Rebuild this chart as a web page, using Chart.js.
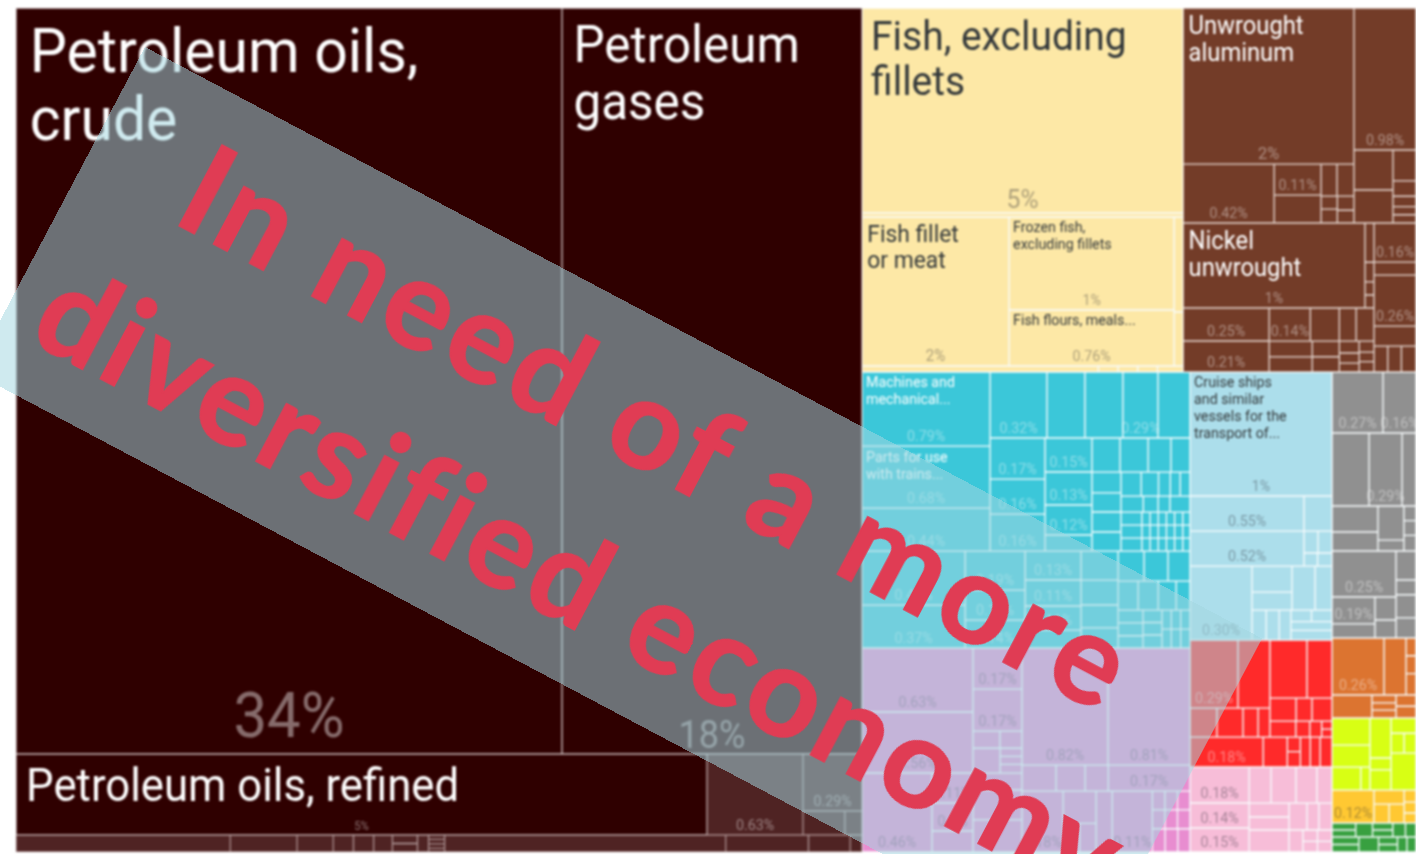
<!DOCTYPE html>
<html>
<head>
<meta charset="utf-8">
<title>Export treemap</title>
<script src="https://cdn.jsdelivr.net/npm/chart.js@4/dist/chart.umd.js"></script>
<style>
    html, body { margin: 0; padding: 0; background: #fff; overflow: hidden; width: 1416px; height: 854px; }
    #wrap { position: relative; width: 1416px; height: 854px; overflow: hidden; }
    #treemap { position: absolute; left: 0; top: 0; filter: blur(0.8px); }
    #band {
        position: absolute; left: 145px; top: 47px; width: 1264px; height: 368px;
        background: rgba(163, 214, 225, 0.52);
        transform-origin: 0 0; transform: rotate(27.9deg);
    }
    #band div {
        position: absolute; left: 0; width: 100%; text-align: center; white-space: nowrap;
        font: bold 126px/1 Lato, sans-serif; letter-spacing: 4.8px; color: #e03c54;
        -webkit-text-stroke: 1.5px #e03c54;
    }
</style>
</head>
<body>
<div id="wrap">
    <canvas id="treemap" width="1416" height="854"></canvas>
    <div id="band">
        <div style="top: 31px">In need of a more</div>
        <div style="top: 203px; left: 5px; letter-spacing: 4.3px">diversified economy</div>
    </div>
</div>
<script>
// shares of exports in percent, read from the area of each cell
const c = (v, name, pct) => ({ v, name, pct });

const crudeAndGases = [c(34.47, "Petroleum oils,\ncrude", "34%"), c(18.94, "Petroleum\ngases", "18%")];
const refinedCell = c(4.74, "Petroleum oils, refined", "5%");
const petroleumCells = [
    crudeAndGases,
    [refinedCell, c(0.658, null, "0.63%"), [c(0.285, null, "0.29%"), [0.085, 0.035]]],
    [0.308, 0.096, 0.052, 0.029, 0.029, 0.027, [0.018, 0.018], 0.016, [0.006, 0.006, 0.006, 0.005], 0.404, 0.119, 0.06, 0.017],
];

const fishCells = [
    c(5.57, "Fish, excluding\nfillets", "5%"),
    [0.109],
    [
        c(1.854, "Fish fillet\nor meat", "2%"),
        [c(1.299, "Frozen fish,\nexcluding fillets", "1%"), c(0.782, "Fish flours, meals...", "0.76%")],
        [0.072, 0.041],
    ],
    [0.12, 0.01, 0.01, 0.01, 0.013],
];

const metalCells = [
    [
        [
            c(2.258, "Unwrought\naluminum", "2%"),
            [
                c(0.454, null, "0.42%"),
                [c(0.123, null, "0.11%"), 0.111],
                [[0.043, 0.046], [[0.018, 0.019], [0.02, 0.018]]],
            ],
        ],
        [c(0.745, null, "0.98%"), [[0.132, 0.109], [0.06, 0.03, 0.02, 0.016, 0.016]]],
    ],
    [
        [
            [c(1.309, "Nickel\nunwrought", "1%"), [0.03, 0.015, 0.01, 0.01]],
            [
                [c(0.24, null, "0.25%"), c(0.226, null, "0.21%")],
                [
                    [c(0.115, null, "0.14%"), 0.081, 0.047, 0.05],
                    [[0.058, 0.055], [0.036, 0.035], [0.02, 0.017, 0.015], [0.014, 0.012, 0.013]],
                ],
            ],
        ],
        [c(0.139, null, "0.16%"), 0.046, c(0.181, null, "0.26%"), 0.071, [0.03, 0.03, 0.032]],
    ],
];

const tealUpper = [
    [c(0.802, "Machines and\nmechanical...", "0.79%"), c(0.672, "Parts for use\nwith trains...", "0.68%"), c(0.466, null, "0.44%")],
    [
        [c(0.318, null, "0.32%"), 0.212, 0.212, c(0.196, null, "0.29%"), 0.179],
        [
            [c(0.191, null, "0.17%"), c(0.163, null, "0.16%"), c(0.172, null, "0.16%")],
            [c(0.135, null, "0.15%"), c(0.131, null, "0.13%"), c(0.119, null, "0.12%"), 0.064],
            [
                [0.081, 0.081, 0.066, 0.055],
                [
                    [0.051, 0.047, 0.049, 0.047],
                    [
                        [0.041, 0.035, 0.024, 0.02, 0.02],
                        [0.03, 0.02, 0.016, 0.027],
                        [
                            [0.023, 0.023, 0.023],
                            [
                                [0.009, 0.009, 0.009, 0.009, 0.009, 0.008],
                                [0.009, 0.009, 0.009, 0.009, 0.009, 0.008],
                                [0.009, 0.009, 0.009, 0.009, 0.009, 0.008],
                            ],
                        ],
                    ],
                ],
            ],
        ],
    ],
];

const tealLower = [
    [c(0.471, null, "0.41%"), c(0.375, null, "0.37%")],
    [c(0.198, null, "0.19%"), c(0.152, null, "0.15%"), c(0.142, null, "0.14%")],
    [c(0.137, null, "0.13%"), c(0.123, null, "0.11%"), c(0.114, null, "0.11%"), 0.085],
    [0.091, 0.078, 0.072, 0.063],
    [
        [0.066, 0.061, 0.056],
        [0.049, 0.049, 0.044, 0.034],
        [[0.027, 0.027, 0.026], [0.02, 0.02, 0.021], [[0.015, 0.015, 0.015], [0.015, 0.015, 0.015]]],
    ],
];

const pinkCells = [
    [
        c(0.601, null, "0.63%"),
        c(0.573, null, "0.56%"),
        [c(0.468, null, "0.46%"), [c(0.104, null, "0.11%"), c(0.097, null, "0.1%"), 0.073]],
    ],
    [
        c(0.17, null, "0.17%"),
        c(0.174, null, "0.17%"),
        [0.039, 0.032],
        [0.057, [0.015, 0.015, 0.016]],
        0.07,
        0.124,
        0.133,
    ],
    [
        [c(0.852, null, "0.82%"), c(0.812, null, "0.81%")],
        [0.075, 0.064, 0.051, c(0.18, null, "0.17%")],
        [
            c(0.212, null, "0.18%"),
            [0.09, [0.04, 0.04]],
            0.083,
            c(0.207, null, "0.11%"),
            [[0.02, 0.02, 0.02], [0.02, 0.02, 0.02], [0.025, 0.025, 0.024]],
        ],
    ],
];

const shipCells = [
    c(1.49, "Cruise ships\nand similar\nvessels for the\ntransport of...", "1%"),
    [
        [c(0.338, null, "0.55%"), c(0.338, null, "0.52%")],
        [0.083, [0.026, 0.026], [0.015, 0.016]],
    ],
    [
        c(0.388, null, "0.30%"),
        [
            [[0.088, 0.061], 0.086, 0.063],
            [0.036, 0.033, 0.03, [[0.02, 0.02], 0.03, 0.034]],
        ],
    ],
];

const redCells = [
    [
        [
            [c(0.276, null, "0.29%"), 0.184],
            [0.066, 0.064, 0.037, 0.029],
        ],
        [
            [0.182, 0.123],
            [0.051, 0.031, 0.039],
            [0.035, 0.019, 0.016, [0.007, 0.007]],
        ],
    ],
    [c(0.185, null, "0.18%"), 0.061, [0.016, 0.017], 0.025, 0.025, 0.03],
];

const lightPinkCells = [
    [c(0.18, null, "0.18%"), c(0.125, null, "0.14%"), c(0.12, null, "0.15%")],
    [
        [0.067, 0.076, 0.064, 0.046],
        [[0.047, 0.044], 0.041, 0.027, 0.03],
        [0.074, 0.026, [[0.014, 0.014], [0.013, 0.013]]],
    ],
];

const greyCells = [
    [c(0.263, null, "0.27%"), c(0.17, null, "0.16%")],
    [0.229, c(0.204, null, "0.29%"), 0.086],
    [[0.101, 0.074], [0.075, 0.024], [0.015, 0.015, 0.016]],
    [
        [c(0.249, null, "0.25%"), [[c(0.098, null, "0.19%"), 0.051], [0.041, 0.032]]],
        [0.049, 0.025, 0.039, 0.034],
    ],
];

const orangeCells = [
    [c(0.251, null, "0.26%"), 0.106, [0.015, 0.015, 0.018]],
    [0.078, [0.016, 0.015, 0.016], [0.019, 0.02]],
];

const limeCells = [
    [0.087, 0.071, [0.056, 0.018]],
    [0.071, 0.021, 0.036],
    [0.032, [0.022, 0.02], 0.078],
];

const goldCells = [c(0.117, null, "0.12%"), [0.036, [0.024, 0.024]], [0.012, 0.011, 0.01]];

const greenCells = [
    [[0.014, 0.014], 0.02, [0.012, 0.012], 0.015, 0.0125],
    [[0.017, 0.017], 0.025, [0.012, 0.012], 0.012, 0.0115],
];

const treeRoot = [
    petroleumCells,
    [
        [fishCells, metalCells],
        [
            [tealUpper, tealLower, pinkCells],
            [[shipCells], [redCells], lightPinkCells],
            [[greyCells], [orangeCells], limeCells, goldCells, [greenCells]],
        ],
    ],
];

const groupColors = new Map([
    [petroleumCells, "#4f2323"],
    [crudeAndGases, "#2f0000"],
    [refinedCell, "#2f0000"],
    [fishCells, "#fde8a6"],
    [metalCells, "#733c28"],
    [tealUpper, "#3bc7d9"],
    [tealLower, "#3bc7d9"],
    [pinkCells, "#e88dd0"],
    [shipCells, "#acdeeb"],
    [redCells, "#ff2a2a"],
    [lightPinkCells, "#f7bdd8"],
    [greyCells, "#909090"],
    [orangeCells, "#dc7430"],
    [limeCells, "#d8ff14"],
    [goldCells, "#ffc832"],
    [greenCells, "#38a040"],
]);

const borderColors = { "#4f2323": "#a58a8a", "#2f0000": "#c9b9b9", "#733c28": "#e6d8d2" };
const lightTextFills = ["#4f2323", "#2f0000", "#733c28", "#3bc7d9", "#909090", "#ff2a2a", "#dc7430"];

const nameSizes = {
    "Petroleum oils,\ncrude": 62,
    "Petroleum\ngases": 52,
    "Petroleum oils, refined": 46,
    "Fish, excluding\nfillets": 41,
    "Fish fillet\nor meat": 24,
    "Unwrought\naluminum": 25,
    "Nickel\nunwrought": 25,
};
const pctStyles = { "34%": { size: 63, lift: 17 }, "18%": { size: 38, lift: 6 } };
const textSqueeze = 0.95;

function sumLeaves(node) {
    if (Array.isArray(node)) return node.reduce((s, n) => s + sumLeaves(n), 0);
    return typeof node === "number" ? node : node.v;
}

// slice and dice: the split direction flips at every level of the tree
function layoutTree(node, rect, splitX, color, out) {
    color = groupColors.get(node) || color;
    if (!Array.isArray(node)) {
        const cell = typeof node === "number" ? { v: node } : node;
        const x0 = rect.x0, x1 = rect.x1, y0 = rect.y0, y1 = rect.y1;
        (out[color] = out[color] || []).push({ x: (x0 + x1) / 2, y: y0, x0, x1, y0, y1, name: cell.name, pct: cell.pct, v: cell.v });
        return;
    }
    const total = sumLeaves(node);
    let pos = splitX ? rect.x0 : rect.y0;
    const span = splitX ? rect.x1 - rect.x0 : rect.y1 - rect.y0;
    node.forEach((child) => {
        const next = pos + (span * sumLeaves(child)) / total;
        const sub = splitX ? { x0: pos, x1: next, y0: rect.y0, y1: rect.y1 } : { x0: rect.x0, x1: rect.x1, y0: pos, y1: next };
        layoutTree(child, sub, !splitX, color, out);
        pos = next;
    });
}

class TreeCellController extends Chart.DatasetController {
    update() {
        const meta = this._cachedMeta;
        this.updateElements(meta.data, 0, meta.data.length, "none");
    }

    updateElements(rects, start, count, mode) {
        const { xScale, yScale } = this._cachedMeta;
        const cells = this.getDataset().data;
        for (let i = start; i < start + count; i++) {
            const d = cells[i];
            const left = xScale.getPixelForValue(d.x0);
            const right = xScale.getPixelForValue(d.x1);
            this.updateElement(rects[i], i, {
                x: (left + right) / 2,
                width: right - left,
                y: yScale.getPixelForValue(d.y0),
                base: yScale.getPixelForValue(d.y1),
                horizontal: false,
                inflateAmount: 0.33,
                borderSkipped: {},
                enableBorderRadius: false,
                options: this.resolveDataElementOptions(i, mode),
            }, mode);
        }
    }
}
TreeCellController.id = "treecell";
TreeCellController.defaults = { datasetElementType: false, dataElementType: "bar" };
Chart.register(TreeCellController);

function drawSqueezed(ctx, text, x, y) {
    ctx.save();
    ctx.translate(x, y);
    ctx.scale(textSqueeze, 1);
    ctx.fillText(text, 0, 0);
    ctx.restore();
}

const cellLabels = {
    id: "cellLabels",
    afterDatasetsDraw(chart) {
        const { ctx, scales } = chart;
        ctx.save();
        ctx.textBaseline = "alphabetic";
        chart.data.datasets.forEach((ds) => {
            const light = lightTextFills.includes(ds.backgroundColor);
            ds.data.forEach((d) => {
                const left = scales.x.getPixelForValue(d.x0);
                const right = scales.x.getPixelForValue(d.x1);
                const top = scales.y.getPixelForValue(d.y0);
                const bottom = scales.y.getPixelForValue(d.y1);
                if (d.name) {
                    const size = nameSizes[d.name] || 15;
                    const step = size < 20 ? 17 : size * 1.1;
                    const pad = size < 20 ? 4 : size * 0.22;
                    ctx.font = size + "px Roboto";
                    ctx.textAlign = "left";
                    ctx.fillStyle = light ? "#ffffff" : "#33383a";
                    d.name.split("\n").forEach((line, i) => {
                        drawSqueezed(ctx, line, left + pad, top + size * 1.03 + i * step);
                    });
                }
                if (d.pct) {
                    const style = pctStyles[d.pct] || {};
                    const size = style.size || (d.name === "Petroleum oils, refined" ? 12 : Math.max(15, 12 * Math.pow(d.v, 0.45)));
                    ctx.font = size + "px Roboto";
                    ctx.textAlign = "center";
                    ctx.fillStyle = light ? "rgba(255,255,255,0.42)" : "rgba(40,40,50,0.38)";
                    drawSqueezed(ctx, d.pct, (left + right) / 2, bottom - (style.lift || 5));
                }
            });
        });
        ctx.restore();
    },
};

const cellsByColor = {};
layoutTree(treeRoot, { x0: 0, x1: 100, y0: 0, y1: 100 }, true, "#2f0000", cellsByColor);

new Chart(document.getElementById("treemap"), {
    type: "treecell",
    data: {
        datasets: Object.entries(cellsByColor).map(([color, cells]) => ({
            data: cells,
            backgroundColor: color,
            borderColor: borderColors[color] || "#f8fdfe",
            borderWidth: 1,
        })),
    },
    options: {
        responsive: false,
        animation: false,
        events: [],
        layout: { padding: { left: 16, top: 8, right: 0, bottom: 2 } },
        scales: {
            x: { type: "linear", min: 0, max: 100, display: false },
            y: { type: "linear", min: 0, max: 100, reverse: true, display: false },
        },
        plugins: { legend: { display: false }, tooltip: { enabled: false } },
    },
    plugins: [cellLabels],
});
</script>
</body>
</html>
